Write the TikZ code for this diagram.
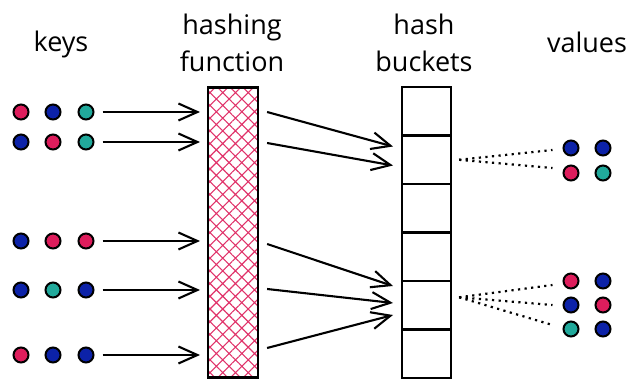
\documentclass[tikz,border=0pt]{standalone}
\usepackage{fontspec}
\setmainfont{Open Sans}
\usetikzlibrary{arrows.meta,patterns.meta,calc}
\definecolor{cred}{HTML}{DE1D5C}
\definecolor{cblue}{HTML}{0C22A8}
\definecolor{cteal}{HTML}{21A99B}
\definecolor{hashred}{HTML}{E0336A}
\begin{document}
\begin{tikzpicture}[x=1pt,y=-1pt,
  keydot/.style={circle,draw=black,line width=2pt,minimum size=15pt,inner sep=0pt},
  title/.style={font=\fontsize{27}{37}\selectfont,anchor=base,inner sep=0pt},
  arr/.style={line width=2.1pt,-{Straight Barb[length=19pt,width=17pt,line width=2.1pt]}},
  cellbox/.style={draw=black,line width=2.1pt,minimum width=49pt,minimum height=48.5pt,anchor=north west,inner sep=0pt},
  dots/.style={line width=2.2pt,dash pattern=on 2.2pt off 4.4pt}
]
\useasboundingbox (0,0) rectangle (630,379);

% titles
\node[title] (tkeys) at (61,52) {keys};
\node[title] (thash1) at (232,35) {hashing};
\node[title] (thash2) at (232,72) {function};
\node[title] (tbuck1) at (424,35) {hash};
\node[title] (tbuck2) at (424,72) {buckets};
\node[title] (tvals) at (587,53) {values};

% hashing function
\node[draw=black,line width=2.1pt,minimum width=50pt,minimum height=290pt,anchor=north west,inner sep=0pt,
  pattern={Hatch[angle=45,distance=9pt,line width=1.1pt]},pattern color=hashred] (hf) at (207,87) {};

% buckets
\foreach \i in {1,...,6}{
  \node[cellbox] (b\i) at (401,{86+48.5*(\i-1)}) {};
}

% keys
\foreach \r/\y/\ca/\cb/\cc in {1/112/cred/cblue/cteal, 2/142/cblue/cred/cteal, 3/241/cblue/cred/cred, 4/290/cblue/cteal/cblue, 5/355/cred/cblue/cblue}{
  \node[keydot,fill=\ca] (k\r a) at (21,\y) {};
  \node[keydot,fill=\cb] (k\r b) at (53,\y) {};
  \node[keydot,fill=\cc] (k\r c) at (86,\y) {};
  \draw[arr,shorten <=8pt,shorten >=7pt] (k\r c.east) -- (hf.west |- k\r c.east);
}

% hash -> bucket arrows
\coordinate (h1) at ($(hf.north east)+(9,25)$);
\coordinate (h2) at ($(hf.north east)+(9,56)$);
\coordinate (h3) at ($(hf.north east)+(9,157)$);
\coordinate (h4) at ($(hf.north east)+(9,202)$);
\coordinate (h5) at ($(hf.north east)+(9,261)$);
\coordinate (e1) at ($(b2.north west)+(-8,12)$);
\coordinate (e2) at ($(b2.north west)+(-8,31)$);
\coordinate (e3) at ($(b5.north west)+(-8,6)$);
\coordinate (e4) at ($(b5.north west)+(-8,23)$);
\coordinate (e5) at ($(b5.north west)+(-8,35)$);
\draw[arr] (h1) -- (e1);
\draw[arr] (h2) -- (e2);
\draw[arr] (h3) -- (e3);
\draw[arr] (h4) -- (e4);
\draw[arr] (h5) -- (e5);

% values
\node[keydot,fill=cblue] (v1a) at (571,148) {};
\node[keydot,fill=cblue] (v1b) at (603,148) {};
\node[keydot,fill=cred]  (v2a) at (571,173) {};
\node[keydot,fill=cteal] (v2b) at (603,173) {};
\node[keydot,fill=cred]  (v3a) at (571,281) {};
\node[keydot,fill=cblue] (v3b) at (603,281) {};
\node[keydot,fill=cblue] (v4a) at (571,305) {};
\node[keydot,fill=cred]  (v4b) at (603,305) {};
\node[keydot,fill=cteal] (v5a) at (571,329) {};
\node[keydot,fill=cblue] (v5b) at (603,329) {};

% dotted links
\coordinate (d2) at ($(b2.east)+(7,0)$);
\coordinate (d5) at ($(b5.east)+(7,-8)$);
\draw[dots] (d2) -- ($(v1a.west)+(-10,2)$);
\draw[dots] (d2) -- ($(v2a.west)+(-10,-5)$);
\draw[dots] (d5) -- ($(v3a.west)+(-10,4)$);
\draw[dots] (d5) -- ($(v4a.west)+(-10,0)$);
\draw[dots] (d5) -- ($(v5a.west)+(-10,-4)$);
\end{tikzpicture}
\end{document}
